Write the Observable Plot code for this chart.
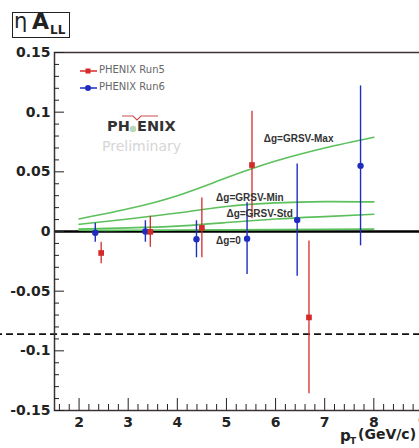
<!DOCTYPE html>
<html>
<head>
<meta charset="utf-8">
<script src="https://cdn.jsdelivr.net/npm/d3@7"></script>
<script src="https://cdn.jsdelivr.net/npm/@observablehq/plot@0.6"></script>
<style>
  html, body { margin: 0; padding: 0; background: #fff; overflow: hidden; }
  #wrap { position: relative; width: 419px; height: 448px; overflow: hidden; font-family: "DejaVu Sans", sans-serif; }
  #chart { position: absolute; left: 0; top: 0; width: 460px; }
  #chart svg { max-width: none !important; }
  .abs { position: absolute; white-space: nowrap; }
</style>
</head>
<body>
<div id="wrap">
  <div id="chart"></div>

  <!-- title box -->
  <div class="abs" style="left:12px; top:12px; width:56px; height:24px; border:1.5px solid #222;"></div>
  <div class="abs" style="left:14px; top:9px; font-size:21px; color:#222;">η</div>
  <div class="abs" style="left:32px; top:9px; font-size:22px; font-weight:bold; color:#222;">A</div>
  <div class="abs" style="left:50px; top:23px; font-size:12px; font-weight:bold; color:#222;">LL</div>

  <!-- legend -->
  <svg class="abs" style="left:76px; top:62px;" width="24" height="34">
    <line x1="4" y1="9" x2="21" y2="9" stroke="#d42a2a" stroke-width="1.5"/>
    <rect x="9.5" y="6.5" width="5" height="5" fill="#d42a2a"/>
    <line x1="4" y1="26" x2="21" y2="26" stroke="#1f2dbf" stroke-width="1.5"/>
    <circle cx="12" cy="26" r="3" fill="#1f2dbf"/>
  </svg>
  <div class="abs" style="left:99px; top:64px; font-size:10px; color:#666;">PHENIX Run5</div>
  <div class="abs" style="left:99px; top:81px; font-size:10px; color:#666;">PHENIX Run6</div>

  <!-- PHENIX logo -->
  <svg class="abs" style="left:118px; top:110px;" width="48" height="26">
    <path d="M4 6 L15 6 L19 10 L23 6 L40 6" fill="none" stroke="#c85050" stroke-width="1.2"/>
    <circle cx="15" cy="19" r="3.2" fill="#b8d8b8"/>
  </svg>
  <div class="abs" style="left:107px; top:118px; font-size:14.5px; font-weight:bold; color:#333;">PH</div>
  <div class="abs" style="left:137px; top:118px; font-size:14.5px; font-weight:bold; color:#333;">ENIX</div>
  <div class="abs" style="left:102px; top:138px; font-size:14px; color:#d6d6d6;">Preliminary</div>

  <!-- x axis title -->
  <div class="abs" style="left:340px; top:427px; font-size:15px; font-weight:bold; color:#222;">p</div>
  <div class="abs" style="left:350px; top:436px; font-size:9px; font-weight:bold; color:#222;">T</div>
  <div class="abs" style="left:358px; top:426px; font-size:14px; font-weight:bold; color:#222;">(GeV/c)</div>
</div>

<script>
// ---------- data ----------
const xDomain = [1.5, 9.5];
const yDomain = [-0.15, 0.15];

const xMajorTicks = [2, 3, 4, 5, 6, 7, 8, 9];
const xMinorTicks = d3.range(8, 48).filter(i => i % 5 !== 0).map(i => i / 5);
const yMajorTicks = [-0.15, -0.1, -0.05, 0, 0.05, 0.1, 0.15];
const yMinorTicks = d3.range(-15, 16).filter(i => i % 5 !== 0).map(i => i / 100);

// PHENIX Run5 (red squares)
const run5Pt  = [2.45, 3.45, 4.50, 5.52, 6.68];
const run5All = [-0.018, -0.0003, 0.003, 0.0557, -0.072];
const run5Err = [0.009, 0.013, 0.025, 0.045, 0.064];

// PHENIX Run6 (blue circles)
const run6Pt  = [2.33, 3.35, 4.39, 5.42, 6.44, 7.73];
const run6All = [-0.001, 0.000, -0.0065, -0.006, 0.0096, 0.055];
const run6Err = [0.008, 0.009, 0.0155, 0.030, 0.047, 0.067];

// theory curves
const curvePt   = [2, 3, 4, 5, 6, 7, 8];
const grsvMax   = [0.0105, 0.019, 0.030, 0.045, 0.059, 0.070, 0.079];
const grsvMin   = [0.006, 0.0105, 0.0155, 0.021, 0.024, 0.025, 0.0248];
const grsvStd   = [0.002, 0.003, 0.0045, 0.0075, 0.0105, 0.0125, 0.0144];
const dgZero    = [0.001, 0.001, 0.0012, 0.0014, 0.0016, 0.0018, 0.002];

const curveNames  = ["Δg=GRSV-Max", "Δg=GRSV-Min", "Δg=GRSV-Std", "Δg=0"];
const curveValues = [grsvMax, grsvMin, grsvStd, dgZero];
const labelPt     = [5.76, 4.79, 5.00, 4.79];
const labelAll    = [0.0775, 0.028, 0.0147, -0.008];

// scale-uncertainty dashed line
const sysLevel = [-0.086];
const sysFrom = 0.3, sysTo = 9.6;

// ---------- tables ----------
const run5 = run5Pt.map((pt, i) => ({pt, a: run5All[i], e: run5Err[i]}));
const run6 = run6Pt.map((pt, i) => ({pt, a: run6All[i], e: run6Err[i]}));
const curves = curveNames.flatMap((name, k) => curvePt.map((pt, i) => ({name, pt, a: curveValues[k][i]})));
const labels = curveNames.map((name, k) => ({name, pt: labelPt[k], a: labelAll[k]}));
const sys = sysLevel.map(a => ({a, x1: sysFrom, x2: sysTo}));

const red = "#d42a2a", blue = "#1f2dbf", green = "#5cc05c";
const fmt = d => String(+d.toFixed(2));

const chart = Plot.plot({
  width: 460,
  height: 448,
  marginLeft: 54,
  marginRight: 13,
  marginTop: 52,
  marginBottom: 38,
  style: {fontFamily: "DejaVu Sans", background: "transparent", overflow: "visible", maxWidth: "none"},
  x: {domain: xDomain, label: null},
  y: {domain: yDomain, label: null},
  marks: [
    Plot.ruleY([0], {stroke: "#000", strokeWidth: 2.5}),
    Plot.line(curves, {x: "pt", y: "a", z: "name", stroke: green, strokeWidth: 1.6, curve: "natural"}),
    Plot.ruleY(sys, {y: "a", x1: "x1", x2: "x2", stroke: "#111", strokeWidth: 1.8, strokeDasharray: "7,4"}),
    Plot.ruleX(run6, {x: "pt", y1: d => d.a - d.e, y2: d => d.a + d.e, stroke: blue, strokeWidth: 1.4}),
    Plot.ruleX(run5, {x: "pt", y1: d => d.a - d.e, y2: d => d.a + d.e, stroke: red, strokeWidth: 1.3}),
    Plot.dot(run6, {x: "pt", y: "a", r: 3.2, fill: blue, symbol: "circle"}),
    Plot.dot(run5, {x: "pt", y: "a", r: 3.2, fill: red, symbol: "square"}),
    Plot.text(labels, {x: "pt", y: "a", text: "name", textAnchor: "start", fontSize: 10, fontWeight: "bold",
      fontFamily: "Liberation Sans", fill: "#333"}),
    Plot.frame({stroke: "#3a3236", strokeWidth: 1.5}),
    Plot.axisY({ticks: yMajorTicks, tickSize: -10, tickPadding: 14, tickFormat: fmt, fontSize: 14,
      fontWeight: "bold", color: "#222", label: null}),
    Plot.axisY({ticks: yMinorTicks, tickSize: -5, tickFormat: () => "", color: "#222", label: null}),
    Plot.axisX({ticks: xMajorTicks, tickSize: -12, tickPadding: 19, tickFormat: d => String(d), fontSize: 14,
      fontWeight: "bold", color: "#222", label: null}),
    Plot.axisX({ticks: xMinorTicks, tickSize: -6, tickFormat: () => "", color: "#222", label: null})
  ]
});
document.getElementById("chart").appendChild(chart);
</script>
</body>
</html>
